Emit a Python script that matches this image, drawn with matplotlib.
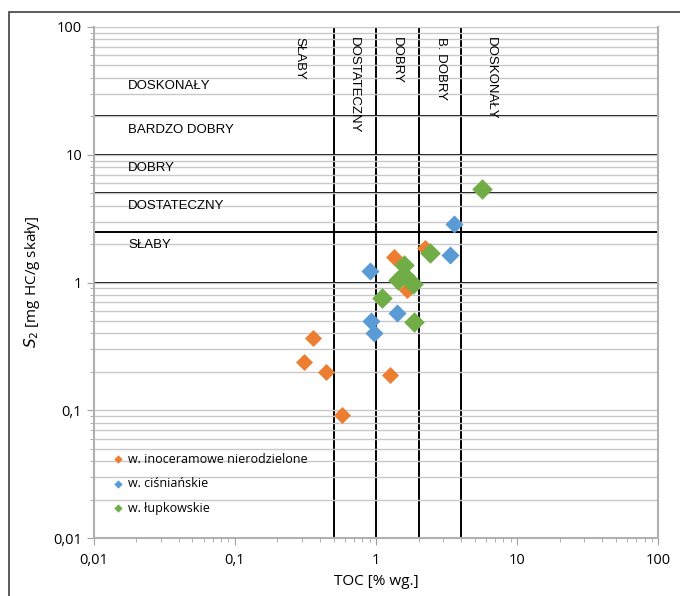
import matplotlib
matplotlib.use("Agg")
import matplotlib.pyplot as plt
from matplotlib.patches import Rectangle
from matplotlib.ticker import FixedLocator, FuncFormatter, LogLocator, NullFormatter

# TOC [% wg.] and S2 [mg HC/g skały] per unit
toc_inoc = [0.31, 0.36, 0.44, 0.57, 1.26, 1.34, 1.66, 2.24]
s2_inoc = [0.24, 0.37, 0.20, 0.091, 0.19, 1.57, 0.88, 1.87]
toc_cisn = [0.91, 0.92, 0.97, 1.40, 3.34, 3.57]
s2_cisn = [1.22, 0.50, 0.40, 0.58, 1.63, 2.87]
toc_lupk = [1.57, 1.44, 1.58, 1.84, 2.43, 1.10, 1.87, 5.62]
s2_lupk = [1.38, 1.05, 1.15, 0.98, 1.71, 0.75, 0.49, 5.42]

series = ["w. inoceramowe nierodzielone", "w. ciśniańskie", "w. łupkowskie"]
colors = ["#ED7D31", "#5B9BD5", "#70AD47"]

# class boundaries
s2_limits = [1, 2.5, 5, 10, 20]
toc_limits = [0.5, 1, 2, 4]
s2_classes = ["DOSKONAŁY", "BARDZO DOBRY", "DOBRY", "DOSTATECZNY", "SŁABY"]
s2_label_y = [34.6, 15.7, 7.9, 4.0, 1.95]
toc_classes = ["SŁABY", "DOSTATECZNY", "DOBRY", "B. DOBRY", "DOSKONAŁY"]
toc_label_x = [0.286, 0.697, 1.41, 2.87, 6.52]

plt.rcParams["font.family"] = ["Open Sans", "DejaVu Sans"]

fig = plt.figure(figsize=(6.8, 5.96), dpi=100)
ax = fig.add_axes([0.138, 0.0973, 0.830, 0.8574])

ax.set_xscale("log")
ax.set_yscale("log")
ax.set_xlim(0.01, 100)
ax.set_ylim(0.01, 100)

# gridlines on y only
ax.yaxis.set_minor_locator(LogLocator(base=10, subs=range(2, 10)))
ax.xaxis.set_minor_locator(LogLocator(base=10, subs=range(2, 10)))
ax.yaxis.set_minor_formatter(NullFormatter())
ax.xaxis.set_minor_formatter(NullFormatter())
ax.grid(axis="y", which="both", color="#c8c8c8", lw=1.0, zorder=0)

for v in s2_limits:
    ax.axhline(v, color="black", lw=1.4, zorder=1)
for v in toc_limits:
    ax.axvline(v, color="black", lw=1.4, zorder=1)

for txt, y in zip(s2_classes, s2_label_y):
    ax.text(0.0175, y, txt, fontsize=9.5, family="Liberation Sans", va="center", ha="left")
for txt, x in zip(toc_classes, toc_label_x):
    ax.text(x, 84, txt, fontsize=9.5, family="Liberation Sans", rotation=-90,
            va="top", ha="center")

ax.scatter(toc_inoc, s2_inoc, marker="D", s=75, c=colors[0], lw=0, zorder=3)
ax.scatter(toc_cisn, s2_cisn, marker="D", s=85, c=colors[1], lw=0, zorder=4)
ax.scatter(toc_lupk, s2_lupk, marker="D", s=110, c=colors[2], lw=0, zorder=5)

# legend drawn as marker + text in axes coords
for i, (name, col) in enumerate(zip(series, colors)):
    yy = 0.154 - i * 0.048
    ax.scatter([0.043], [yy], marker="D", s=18, c=col, lw=0, transform=ax.transAxes, zorder=6)
    ax.text(0.06, yy, name, transform=ax.transAxes, fontsize=9, va="center", ha="left")

fmt = FuncFormatter(lambda v, _: f"{v:g}".replace(".", ","))
ax.xaxis.set_major_locator(FixedLocator([0.01, 0.1, 1, 10, 100]))
ax.yaxis.set_major_locator(FixedLocator([0.01, 0.1, 1, 10, 100]))
ax.xaxis.set_major_formatter(fmt)
ax.yaxis.set_major_formatter(fmt)
ax.tick_params(which="major", length=5, color="#a0a0a0", labelsize=10.5)
ax.tick_params(which="minor", length=3, color="#a0a0a0")
ax.tick_params(axis="x", pad=6)

ax.spines["top"].set_visible(False)
for side in ("left", "bottom", "right"):
    ax.spines[side].set_color("#b0b0b0")
    ax.spines[side].set_linewidth(1.5)

ax.set_xlabel("TOC [% wg.]", fontsize=11, labelpad=4)
ax.set_ylabel("$S_2$ [mg HC/g skały]", fontsize=11, labelpad=8)

# chart area border (cropped on right and bottom)
fig.patches.append(Rectangle((9 / 680, -0.1), 1.2, 1 - 12 / 596 + 0.1, transform=fig.transFigure,
                             fill=False, ec="#404040", lw=1.2))

fig.savefig("out.png", dpi=100)
